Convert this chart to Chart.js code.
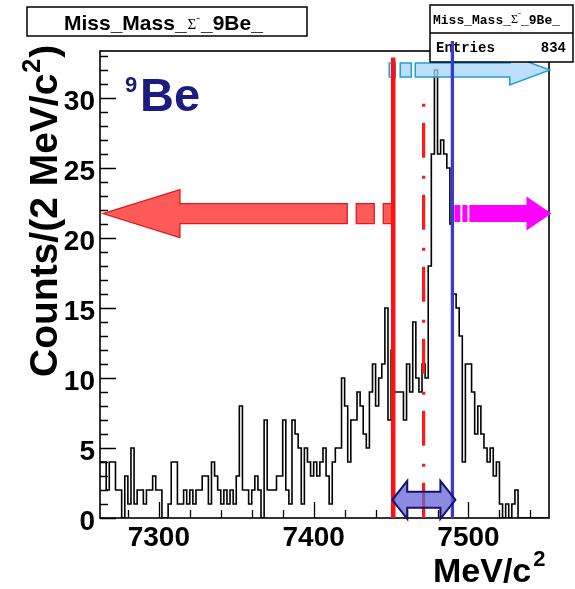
<!DOCTYPE html>
<html><head><meta charset="utf-8">
<script src="https://cdn.jsdelivr.net/npm/chart.js@4.4.0/dist/chart.umd.min.js"></script>
<style>html,body{margin:0;padding:0;background:#fff;}canvas{display:block;}</style>
</head><body>
<canvas id="c" width="575" height="589"></canvas>
<script>
// ---- data ----
const binLowEdge = 7262;      // MeV/c^2
const binWidth = 2;           // MeV/c^2
const binCount = 145;
const counts = [
 4,4,4,2,4,4,2,2,0,3, 1,5,1,2,2,1,2,2,3,2,
 2,0,0,1,4,4,1,1,2,1, 2,1,2,2,3,3,1,4,3,2,
 1,2,1,2,1,3,8,2,2,1, 2,3,2,0,7,2,2,2,3,3,
 7,2,1,7,6,5,1,5,4,3, 4,3,4,5,3,1,4,5,5,10,
 8,4,7,7,9,8,6,5,9,11, 8,10,11,15,7,12,9,9,9,7,
 11,9,14,10,9,11,10,18,26,32, 26,27,26,25,21,16,15,13,4,11,
 11,9,6,8,6,5,4,5,3,4, 1,0,1,0,1,2,0,0,0,0,
 0,0,0,0,0
];
const xTickLabels = [7300, 7400, 7500];
const yTickLabels = [0, 5, 10, 15, 20, 25, 30];
const xMinorStep = 20;
const yMinorStep = 1;
const yMax = 33.36;
const redCutMeV = 7451.4;
const dashCutMeV = 7471.0;
const blueCutMeV = 7489.6;
const arrowLevels = [21.75, 32.0, 1.3];   // red/magenta arrows, cyan arrow, double arrow (counts)
const arrowTipsMeV = [7263.9, 7553.6, 7552.5]; // red tip, magenta tip, cyan tip
const histTitle = 'Miss_Mass_';
const histTitleEnd = '_9Be_';
const entries = 834;

const xMin = binLowEdge, xMax = binLowEdge + binWidth * binCount;
const histPoints = counts.map((c, i) => ({x: binLowEdge + binWidth * i, y: c}));
histPoints.push({x: xMax, y: counts[counts.length - 1]});

const FONT = "'Liberation Sans', Arial, Helvetica, sans-serif";

function poly(ctx, pts, fill, stroke, lw) {
  ctx.beginPath();
  pts.forEach((p, i) => i ? ctx.lineTo(p[0], p[1]) : ctx.moveTo(p[0], p[1]));
  ctx.closePath();
  if (fill) { ctx.fillStyle = fill; ctx.fill(); }
  if (stroke) { ctx.strokeStyle = stroke; ctx.lineWidth = lw; ctx.stroke(); }
}
function rect(ctx, x0, x1, yc, h, fill, stroke, lw) {
  poly(ctx, [[x0, yc - h], [x1, yc - h], [x1, yc + h], [x0, yc + h]], fill, stroke, lw);
}

const decor = {
  id: 'decor',
  afterDraw(chart) {
    const ctx = chart.ctx, a = chart.chartArea;
    const X = v => chart.scales.x.getPixelForValue(v);
    const Y = v => chart.scales.y.getPixelForValue(v);
    ctx.save();
    // frame
    ctx.strokeStyle = '#000'; ctx.lineWidth = 1.6;
    ctx.strokeRect(a.left, a.top, a.right - a.left, a.bottom - a.top);
    // inside ticks
    ctx.lineWidth = 1.3;
    ctx.beginPath();
    for (let v = 0; v <= yMax; v += yMinorStep) {
      const y = Math.round(Y(v)) + 0.5;
      const len = (v % 5 === 0) ? 16 : 8;
      ctx.moveTo(a.left, y); ctx.lineTo(a.left + len, y);
    }
    for (let v = Math.ceil(xMin / xMinorStep) * xMinorStep; v <= xMax; v += xMinorStep) {
      const x = Math.round(X(v)) + 0.5;
      const len = (v % 100 === 0) ? 16 : 8;
      ctx.moveTo(x, a.bottom); ctx.lineTo(x, a.bottom - len);
    }
    ctx.stroke();

    const redX = X(redCutMeV), blueX = X(blueCutMeV), dashX = X(dashCutMeV);
    // dash-dot line
    ctx.strokeStyle = '#ff1a1a'; ctx.lineWidth = 3.2;
    ctx.setLineDash([3, 16, 35, 18]);
    ctx.beginPath(); ctx.moveTo(dashX, Y(29.6)); ctx.lineTo(dashX, a.bottom); ctx.stroke();
    ctx.setLineDash([]);

    // red left arrow
    const ry = Y(arrowLevels[0]);
    const rtip = X(arrowTipsMeV[0]);
    const hb = rtip + 77;
    poly(ctx, [[rtip, ry], [hb, ry - 24], [hb, ry - 10], [redX - 46, ry - 10], [redX - 46, ry + 10], [hb, ry + 10], [hb, ry + 24]], '#ff5a5a', '#e01a1a', 1.3);
    rect(ctx, redX - 37, redX - 19, ry, 10, '#ff5a5a', '#e01a1a', 1.3);
    rect(ctx, redX - 10, redX, ry, 10, '#ff5a5a', '#e01a1a', 1.3);

    // magenta right arrow
    const mtip = X(arrowTipsMeV[1]);
    const mhb = mtip - 25;
    rect(ctx, blueX + 2, blueX + 8, ry, 8.5, '#ff00ff');
    rect(ctx, blueX + 10, blueX + 15, ry, 8.5, '#ff00ff');
    poly(ctx, [[blueX + 17, ry - 8.5], [mhb, ry - 8.5], [mhb, ry - 17], [mtip, ry], [mhb, ry + 17], [mhb, ry + 8.5], [blueX + 17, ry + 8.5]], '#ff00ff');

    // cyan arrow
    const cy = Y(arrowLevels[1]);
    const ctip = X(arrowTipsMeV[2]);
    const chb = ctip - 40;
    rect(ctx, redX - 4, redX + 2, cy, 7, 'rgba(165,212,250,0.75)', '#22a0d8', 1.5);
    rect(ctx, redX + 7, redX + 18, cy, 7, 'rgba(165,212,250,0.75)', '#22a0d8', 1.5);
    poly(ctx, [[redX + 22, cy - 7], [chb, cy - 7], [chb, cy - 15], [ctip, cy], [chb, cy + 15], [chb, cy + 7], [redX + 22, cy + 7]], 'rgba(165,212,250,0.75)', '#22a0d8', 1.5);

    // red solid line
    ctx.strokeStyle = '#ff1010'; ctx.lineWidth = 4.5;
    ctx.beginPath(); ctx.moveTo(redX, Y(32.9)); ctx.lineTo(redX, a.bottom); ctx.stroke();

    // title box
    ctx.fillStyle = '#fff'; ctx.fillRect(27, 7, 280, 29);
    ctx.strokeStyle = '#000'; ctx.lineWidth = 1.5; ctx.strokeRect(27, 7, 280, 29);
    ctx.fillStyle = '#000'; ctx.textBaseline = 'alphabetic'; ctx.textAlign = 'left';
    ctx.font = 'bold 21px ' + FONT;
    let tx = 64;
    ctx.fillText(histTitle, tx, 30); tx += ctx.measureText(histTitle).width + 1;
    ctx.font = '15px "Liberation Serif", serif';
    ctx.fillText('\u03A3', tx, 29); tx += ctx.measureText('\u03A3').width;
    ctx.font = '11px "Liberation Serif", serif';
    ctx.fillText('-', tx, 21); tx += ctx.measureText('-').width + 1;
    ctx.font = 'bold 21px ' + FONT;
    ctx.fillText(histTitleEnd, tx, 30);

    // stats box
    ctx.fillStyle = '#fff'; ctx.fillRect(430, 5, 143, 57);
    ctx.strokeStyle = '#000'; ctx.lineWidth = 1.5; ctx.strokeRect(430, 5, 143, 57);
    ctx.beginPath(); ctx.moveTo(430, 33); ctx.lineTo(573, 33); ctx.stroke();
    ctx.fillStyle = '#000';
    ctx.font = 'bold 13px "Liberation Mono", monospace';
    let sx = 433;
    ctx.fillText(histTitle, sx, 24); sx += ctx.measureText(histTitle).width;
    ctx.font = '12px "Liberation Serif", serif';
    ctx.fillText('\u03A3', sx, 23); sx += ctx.measureText('\u03A3').width;
    ctx.font = '9px "Liberation Serif", serif';
    ctx.fillText('-', sx, 16); sx += ctx.measureText('-').width;
    ctx.font = 'bold 13px "Liberation Mono", monospace';
    ctx.fillText(histTitleEnd, sx, 24);
    ctx.font = 'bold 14px "Liberation Mono", monospace';
    ctx.fillText('Entries', 436, 52);
    ctx.textAlign = 'right';
    ctx.fillText(String(entries), 566, 52);
    ctx.textAlign = 'left';

    // blue line
    ctx.strokeStyle = '#3a3ad2'; ctx.lineWidth = 3.3;
    ctx.beginPath(); ctx.moveTo(blueX, 41); ctx.lineTo(blueX, a.bottom); ctx.stroke();

    // double arrow
    const dy = Y(arrowLevels[2]);
    const xl = redX - 1, xr = blueX + 3;
    poly(ctx, [[xl, dy], [xl + 15, dy - 19], [xl + 15, dy - 8], [xr - 15, dy - 8], [xr - 15, dy - 19], [xr, dy], [xr - 15, dy + 19], [xr - 15, dy + 8], [xl + 15, dy + 8], [xl + 15, dy + 19]], 'rgba(100,100,215,0.75)', '#12126e', 2);

    // 9Be label
    ctx.fillStyle = '#1c1c80';
    ctx.font = 'bold 22px ' + FONT;
    ctx.fillText('9', 125, 92);
    ctx.font = 'bold 47px ' + FONT;
    ctx.fillText('Be', 140, 111);

    // axis titles
    ctx.fillStyle = '#000';
    ctx.font = 'bold 34px ' + FONT;
    const xt = 'MeV/c';
    ctx.fillText(xt, 433, 582);
    const xw = ctx.measureText(xt).width;
    ctx.font = 'bold 22px ' + FONT;
    ctx.fillText('2', 433 + xw + 2, 566);

    ctx.save();
    ctx.translate(57, 377);
    ctx.rotate(-Math.PI / 2);
    ctx.font = 'bold 39px ' + FONT;
    const yt = 'Counts/(2 MeV/c';
    ctx.fillText(yt, 0, 0);
    let yw = ctx.measureText(yt).width;
    ctx.font = 'bold 25px ' + FONT;
    ctx.fillText('2', yw + 1, -17);
    yw += ctx.measureText('2').width + 2;
    ctx.font = 'bold 39px ' + FONT;
    ctx.fillText(')', yw, 0);
    ctx.restore();

    ctx.restore();
  }
};

new Chart(document.getElementById('c'), {
  type: 'line',
  data: { datasets: [{
    data: histPoints, stepped: 'after', borderColor: '#000', borderWidth: 1.6,
    pointRadius: 0, fill: false, tension: 0
  }]},
  options: {
    responsive: false, animation: false, events: [],
    layout: { padding: { left: 0, right: 26, top: 51, bottom: 0 } },
    plugins: { legend: { display: false }, tooltip: { enabled: false } },
    scales: {
      x: {
        type: 'linear', min: xMin, max: xMax,
        grid: { display: false, drawTicks: false }, border: { display: false },
        afterBuildTicks: s => { s.ticks = xTickLabels.map(v => ({ value: v })); },
        afterFit: s => { s.height = 71; },
        ticks: { color: '#000', font: { family: FONT, size: 28, weight: 'bold' }, padding: 3,
                 maxRotation: 0, autoSkip: false, callback: v => String(v) }
      },
      y: {
        type: 'linear', min: 0, max: yMax,
        grid: { display: false, drawTicks: false }, border: { display: false },
        afterBuildTicks: s => { s.ticks = yTickLabels.map(v => ({ value: v })); },
        afterFit: s => { s.width = 100; },
        ticks: { color: '#000', font: { family: FONT, size: 28, weight: 'bold' }, padding: 5,
                 labelOffset: 4, autoSkip: false, callback: v => String(v) }
      }
    }
  },
  plugins: [decor]
});
</script>
</body></html>
